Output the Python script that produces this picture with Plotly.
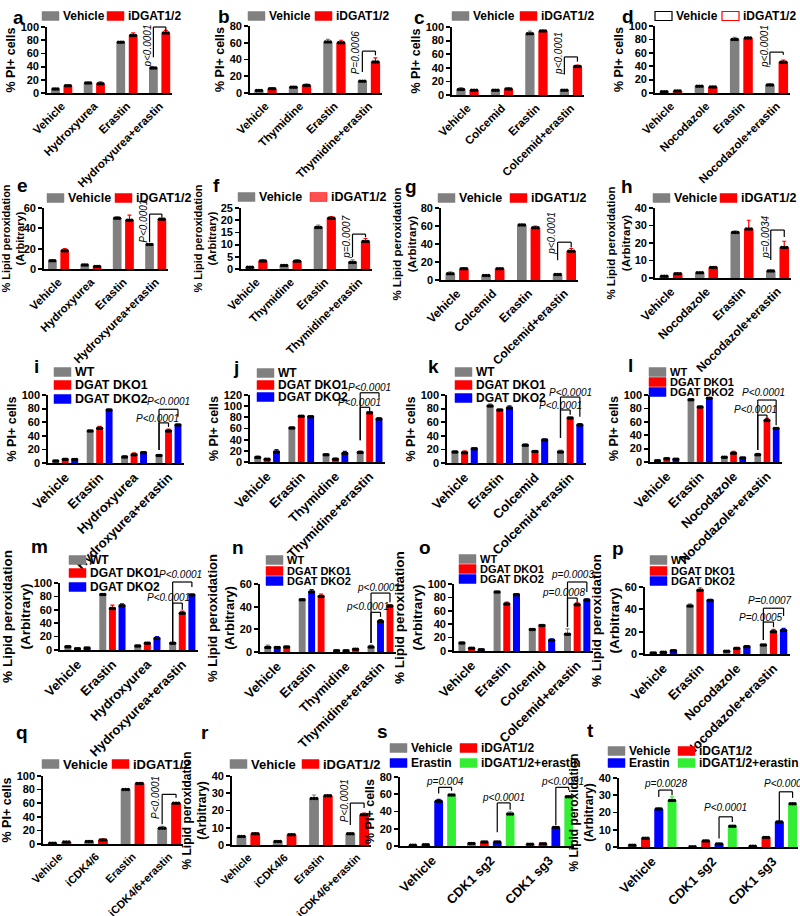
import plotly.graph_objects as go

W, H = 800, 916
FONT = "Liberation Sans, Arial, sans-serif"
NARROW = "Liberation Sans Narrow, Liberation Sans, sans-serif"
GREY, RED, BLUE, GREEN = "#808080", "#ff0000", "#0000ff", "#33ee33"

# ---------------- data ----------------
cat_hu = ["Vehicle", "Hydroxyurea", "Erastin", "Hydroxyurea+erastin"]
cat_thy = ["Vehicle", "Thymidine", "Erastin", "Thymidine+erastin"]
cat_col = ["Vehicle", "Colcemid", "Erastin", "Colcemid+erastin"]
cat_noc = ["Vehicle", "Nocodazole", "Erastin", "Nocodazole+erastin"]
cat_hu2 = ["Vehicle", "Erastin", "Hydroxyurea", "Hydroxyurea+erastin"]
cat_thy2 = ["Vehicle", "Erastin", "Thymidine", "Thymidine+erastin"]
cat_col2 = ["Vehicle", "Erastin", "Colcemid", "Colcemid+erastin"]
cat_noc2 = ["Vehicle", "Erastin", "Nocodazole", "Nocodazole+erastin"]
cat_cdk46 = ["Vehicle", "iCDK4/6", "Erastin", "iCDK4/6+erastin"]
cat_cdk1 = ["Vehicle", "CDK1 sg2", "CDK1 sg3"]

a_veh, a_veh_err = [6, 15, 77, 38], [1, 1.5, 1, 1]
a_idg, a_idg_err = [11, 14, 87, 91], [1, 3, 4, 4]
b_veh, b_veh_err = [3, 7, 61, 14], [0.5, 1, 3, 0.5]
b_idg, b_idg_err = [5, 9, 60, 37], [1, 1.5, 3, 5]
c_veh, c_veh_err = [8, 7, 90, 7], [3, 1, 4, 1]
c_idg, c_idg_err = [7, 9, 94, 42], [1, 1.5, 1, 2]
d_veh, d_veh_err = [2, 10, 80, 12], [0.5, 1, 3, 2]
d_idg, d_idg_err = [3, 9, 82, 46], [1, 1, 1, 3]
e_veh, e_veh_err = [8, 4, 50, 24], [1, 0.5, 1.5, 0.5]
e_idg, e_idg_err = [18, 2.5, 48, 49], [2, 0.5, 5, 1]
f_veh, f_veh_err = [0.7, 1.4, 17, 2.7], [0.2, 0.2, 1, 1]
f_idg, f_idg_err = [3.3, 3.2, 20.8, 11.3], [0.5, 0.5, 0.7, 1.2]
g_veh, g_veh_err = [7, 5, 61, 6], [2, 0.5, 1, 0.5]
g_idg, g_idg_err = [12.5, 12.5, 58, 32], [1, 0.5, 2, 3]
h_veh, h_veh_err = [1, 3, 26, 4], [0.2, 0.3, 1, 0.7]
h_idg, h_idg_err = [2.5, 6, 28, 17.5], [0.3, 0.5, 5, 3.5]

i_wt, i_wt_err = [3, 47, 9, 11], [0.5, 1, 2, 0.5]
i_k1, i_k1_err = [5, 51, 12, 47], [2, 3, 3, 3]
i_k2, i_k2_err = [5, 78, 15, 56], [1, 1, 1, 1]
j_wt, j_wt_err = [8, 61, 13, 17], [3, 2, 1, 3]
j_k1, j_k1_err = [5, 82, 5, 88], [1, 1, 2, 1]
j_k2, j_k2_err = [18, 81, 15, 77], [4, 1, 4, 2]
k_wt, k_wt_err = [16, 84, 26, 16], [2, 3, 2, 3]
k_k1, k_k1_err = [15, 78, 17, 66], [3, 1, 1, 1]
k_k2, k_k2_err = [21, 81, 34, 56], [1, 3, 1, 2]
l_wt, l_wt_err = [2, 93, 7, 11], [0.5, 1, 1, 2]
l_k1, l_k1_err = [5, 82, 13, 62], [1, 1, 3, 3]
l_k2, l_k2_err = [4, 95, 6, 50], [1, 1, 1, 1]
m_wt, m_wt_err = [5, 83, 6, 10], [1.5, 1, 1.5, 1]
m_k1, m_k1_err = [2, 62, 10, 55], [0.5, 5, 1.5, 3]
m_k2, m_k2_err = [3, 66, 17, 82], [0.5, 3, 3, 1]
n_wt, n_wt_err = [4, 46, 1, 4.5], [2, 0.5, 0.3, 1.5]
n_k2, n_k2_err = [4, 53, 1, 27], [0.5, 2, 0.3, 1.5]
n_k1, n_k1_err = [4.5, 49, 2.5, 40.5], [0.5, 2, 0.5, 1]
o_wt, o_wt_err = [12, 88, 32, 25], [1, 0.5, 1, 8]
o_k1, o_k1_err = [4, 70, 38, 69], [0.5, 3, 1, 3]
o_k2, o_k2_err = [2, 84, 16, 76], [0.5, 1, 2, 2]
p_wt, p_wt_err = [1, 43, 2.5, 8], [0.2, 2, 0.5, 0.5]
p_k1, p_k1_err = [1.5, 57, 5, 20], [0.3, 3, 1, 2]
p_k2, p_k2_err = [3, 48, 6.5, 21], [0.5, 1, 1, 2]

q_veh, q_veh_err = [1, 3.5, 80, 23], [0.3, 1, 1, 3]
q_idg, q_idg_err = [3, 6, 89, 60], [0.5, 1.5, 1, 1]
r_veh, r_veh_err = [5, 2, 27, 6.5], [0.3, 0.5, 2, 0.5]
r_idg, r_idg_err = [6.5, 6, 28.5, 17.5], [0.5, 0.5, 0.5, 1]

s_veh, s_veh_err = [1, 3, 2], [0.3, 0.3, 0.3]
s_idg, s_idg_err = [1.5, 4.5, 2.5], [0.3, 1, 0.5]
s_era, s_era_err = [52, 4.5, 21.5], [2, 1, 1]
s_cmb, s_cmb_err = [59, 37, 57], [1, 3, 1.5]
t_veh, t_veh_err = [1, 0.2, 0.4], [0.3, 0.1, 0.1]
t_idg, t_idg_err = [5, 3.5, 5.5], [0.3, 0.5, 0.5]
t_era, t_era_err = [22, 1.8, 14.5], [0.5, 0.3, 0.5]
t_cmb, t_cmb_err = [27, 12, 25], [2, 0.5, 0.5]

PI = "% PI+ cells"
LIPID = "% Lipid peroxidation<br>(Arbitrary)"


def two(v, ve, i, ie):
    return [("Vehicle", v, ve, GREY), ("iDGAT1/2", i, ie, RED)]


def three(w, we, a, ae, b, be, ca=RED, cb=BLUE):
    return [("WT", w, we, GREY), ("DGAT DKO1", a, ae, ca), ("DGAT DKO2", b, be, cb)]


def four(v, ve, i, ie, e, ee, c, ce):
    return [("Vehicle", v, ve, GREY), ("iDGAT1/2", i, ie, RED),
            ("Erastin", e, ee, BLUE), ("iDGAT1/2+erastin", c, ce, GREEN)]


LEG2 = lambda x1, x2, y, style=None: [(x1, y, "Vehicle", GREY, style and style[0]),
                                       (x2, y, "iDGAT1/2", RED, style and style[1])]
LEG3 = lambda x, y1, y2, y3: [(x, y1, "WT", GREY, None), (x, y2, "DGAT DKO1", RED, None),
                              (x, y3, "DGAT DKO2", BLUE, None)]
LEG4 = lambda x1, x2, y1, y2: [(x1, y1, "Vehicle", GREY, None), (x2, y1, "iDGAT1/2", RED, None),
                               (x1, y2, "Erastin", BLUE, None), (x2, y2, "iDGAT1/2+erastin", GREEN, None)]

panels = [
    dict(L="a", cats=cat_hu, S=two(a_veh, a_veh_err, a_idg, a_idg_err), ymax=100, dt=20, yt=PI,
         box=(47, 172, 27, 93), let=(18, 17), leg=LEG2(42, 107, 16), lf=12, tf=11.5,
         br=[(3, 0, 1, 54, 100, 93, "p<0.0001", 71, True, -6)]),
    dict(L="b", cats=cat_thy, S=two(b_veh, b_veh_err, b_idg, b_idg_err), ymax=80, dt=20, yt=PI,
         box=(250, 382, 26, 93), let=(224, 16), leg=LEG2(248, 315, 16), lf=12, tf=11.5,
         br=[(3, 0, 1, 25, 50, 45, "P=0.0006", 49, True, -6)]),
    dict(L="c", cats=cat_col, S=two(c_veh, c_veh_err, c_idg, c_idg_err), ymax=100, dt=20, yt=PI,
         box=(452, 584, 27, 95), let=(419, 18), leg=LEG2(452, 520, 16), lf=12, tf=11.5,
         br=[(3, 0, 1, 30, 56, 49, "p<0.0001", 61, True, -6)]),
    dict(L="d", cats=cat_noc, S=two(d_veh, d_veh_err, d_idg, d_idg_err), ymax=100, dt=20, yt=PI,
         box=(655, 790, 26, 93), let=(628, 16), leg=LEG2(655, 722, 16, ("hollow", "hollow")), lf=12, tf=11.5,
         br=[(3, 0, 1, 42, 61, 57, "p<0.0001", 70, True, -6)]),
    dict(L="e", cats=cat_hu, S=two(e_veh, e_veh_err, e_idg, e_idg_err), ymax=60, dt=20, yt=LIPID,
         box=(44, 168, 208, 269), let=(22, 185), leg=LEG2(47, 115, 198), lf=12.5, tf=11.5,
         br=[(3, 0, 1, 26.5, 54, 51, "P<0.0001", 47, True, -6)]),
    dict(L="f", cats=cat_thy, S=two(f_veh, f_veh_err, f_idg, f_idg_err), ymax=25, dt=5, yt=LIPID,
         box=(241, 372, 208, 269), let=(216, 185), leg=LEG2(238, 310, 197, (None, "light")), lf=12.5, tf=11.5,
         br=[(3, 0, 1, 4.9, 14.3, 13, "p=0.0007", 13, True, -6)]),
    dict(L="g", cats=cat_col, S=two(g_veh, g_veh_err, g_idg, g_idg_err), ymax=80, dt=20, yt=LIPID,
         box=(441, 578, 208, 280), let=(411, 187), leg=LEG2(438, 510, 198), lf=12.5, tf=12,
         br=[(3, 0, 1, 22, 42, 36, "p<0.0001", 52, True, -6)]),
    dict(L="h", cats=cat_noc, S=two(h_veh, h_veh_err, h_idg, h_idg_err), ymax=40, dt=10, yt=LIPID,
         box=(655, 791, 208, 278), let=(627, 187), leg=LEG2(653, 720, 198), lf=12.5, tf=12,
         br=[(3, 0, 1, 10.3, 27.4, 23.4, "p=0.0034", 23.4, True, -6)]),
    dict(L="i", cats=cat_hu2, S=three(i_wt, i_wt_err, i_k1, i_k1_err, i_k2, i_k2_err), ymax=100, dt=20, yt=PI,
         box=(48, 184, 395, 463), let=(36, 366), leg=LEG3(54, 372, 385, 399), lf=12.5, tf=13,
         br=[(3, 0, 1, 19, 59, 53, "P<0.0001", 66, False, -6), (3, 0, 2, 19, 79, 68, "P<0.0001", 90, False, 0)]),
    dict(L="j", cats=cat_thy2, S=three(j_wt, j_wt_err, j_k1, j_k1_err, j_k2, j_k2_err), ymax=120, dt=20, yt=PI,
         box=(250, 385, 395, 462), let=(236, 367), leg=LEG3(257, 373, 385, 397), lf=12, tf=13,
         br=[(3, 0, 1, 39, 98, 90, "P<0.0001", 107, False, -5), (3, 0, 2, 39, 124, 115, "P<0.0001", 134, False, 0)]),
    dict(L="k", cats=cat_col2, S=three(k_wt, k_wt_err, k_k1, k_k1_err, k_k2, k_k2_err), ymax=100, dt=20, yt=PI,
         box=(447, 586, 395, 463), let=(433, 366), leg=LEG3(455, 372, 385, 398), lf=12, tf=13,
         br=[(3, 0, 1, 37, 78, 71, "P<0.0001", 85, False, -5), (3, 0, 2, 37, 97, 68, "P<0.0001", 104, False, 0)]),
    dict(L="l", cats=cat_noc2, S=three(l_wt, l_wt_err, l_k1, l_k1_err, l_k2, l_k2_err), ymax=100, dt=20, yt=PI,
         box=(650, 782, 395, 462), let=(630, 365), leg=LEG3(649, 372, 382, 392), lf=11, tf=13,
         br=[(3, 0, 1, 18, 70, 61, "P<0.0001", 78, False, -7), (3, 0, 2, 18, 92.5, 55, "P<0.0001", 103, False, -3)]),
    dict(L="m", cats=cat_hu2, S=three(m_wt, m_wt_err, m_k1, m_k1_err, m_k2, m_k2_err), ymax=100, dt=20, yt=LIPID,
         box=(60, 198, 583, 650), let=(39, 546), leg=LEG3(69, 560, 573, 587), lf=12, tf=13,
         br=[(3, 0, 1, 12, 70, 60, "P<0.0001", 78, False, -9), (3, 0, 2, 12, 101.5, 94, "P<0.0001", 112, False, -2)]),
    dict(L="n", cats=cat_thy2, S=[("WT", n_wt, n_wt_err, GREY), ("DGAT DKO2", n_k2, n_k2_err, BLUE),
                                  ("DGAT DKO1", n_k1, n_k1_err, RED)], ymax=60, dt=20, yt=LIPID,
         box=(260, 396, 584, 652), let=(238, 547), leg=LEG3(266, 560, 571, 581), lf=11, tf=13,
         br=[(3, 0, 1, 8, 35, 31, "p<0.0001", 40, False, -8), (3, 0, 2, 8, 52, 44, "p<0.0001", 57, False, -2)]),
    dict(L="o", cats=cat_col2, S=three(o_wt, o_wt_err, o_k1, o_k1_err, o_k2, o_k2_err), ymax=100, dt=20, yt=LIPID,
         box=(454, 593, 584, 651), let=(425, 547), leg=LEG3(459, 559, 569, 579), lf=11, tf=13,
         br=[(3, 0, 1, 36, 79, 72, "p=0.0008", 87, False, -9), (3, 0, 2, 36, 103, 88, "p=0.0003", 114, False, -5)]),
    dict(L="p", cats=cat_noc2, S=three(p_wt, p_wt_err, p_k1, p_k1_err, p_k2, p_k2_err), ymax=60, dt=20, yt=LIPID,
         box=(645, 790, 587, 654), let=(618, 548), leg=LEG3(650, 560, 571, 581), lf=11, tf=13,
         br=[(3, 0, 1, 12.5, 28.6, 24, "P=0.0005", 33, False, -7), (3, 0, 2, 12.5, 41, 34, "P=0.0007", 48, False, -3)]),
    dict(L="q", cats=cat_cdk46, S=two(q_veh, q_veh_err, q_idg, q_idg_err), ymax=100, dt=20, yt=PI,
         box=(43, 183, 776, 844), let=(22, 732), leg=LEG2(42, 112, 764), lf=13, tf=11,
         br=[(3, 0, 1, 29, 73, 68, "P<0.0001", 68, True, -6)]),
    dict(L="r", cats=cat_cdk46, S=two(r_veh, r_veh_err, r_idg, r_idg_err), ymax=40, dt=10, yt=LIPID,
         box=(232, 371, 776, 845), let=(205, 732), leg=LEG2(230, 302, 764), lf=13, tf=11,
         br=[(3, 0, 1, 11.6, 24.3, 21.5, "P<0.0001", 25.5, True, -6)]),
    dict(L="s", cats=cat_cdk1, S=four(s_veh, s_veh_err, s_idg, s_idg_err, s_era, s_era_err, s_cmb, s_cmb_err),
         ymax=80, dt=20, yt=PI, box=(400, 574, 777, 846), let=(382, 731), leg=LEG4(390, 460, 748, 763), lf=12, tf=13,
         br=[(0, 2, 3, 61, 68, 64, "p=0.004", 75, False, 0), (1, 2, 3, 16, 50, 42, "p<0.0001", 56, False, 0),
             (2, 2, 3, 24, 68, 65, "p<0.0001", 75, False, 0)]),
    dict(L="t", cats=cat_cdk1, S=four(t_veh, t_veh_err, t_idg, t_idg_err, t_era, t_era_err, t_cmb, t_cmb_err),
         ymax=40, dt=10, yt=LIPID, box=(619, 798, 778, 847), let=(590, 730), leg=LEG4(608, 678, 751, 763), lf=12, tf=13,
         br=[(0, 2, 3, 29, 33, 30, "p=0.0028", 36.6, False, 0), (1, 2, 3, 5, 17.5, 14.5, "P<0.0001", 22.7, False, 0),
             (2, 2, 3, 14.5, 32, 28.5, "P<0.0001", 37, False, 0)]),
]

TITLE_SIZE = {"e": 11, "f": 11, "g": 11.5, "h": 11.5, "m": 13.5, "n": 13, "o": 13.5, "p": 13.5,
              "r": 12, "t": 12}

OFFSETS = {2: ([-0.19, 0.19], 0.27), 3: ([-0.275, 0.0, 0.275], 0.2), 4: ([-0.33, -0.11, 0.11, 0.33], 0.15)}
XRANGE = {2: [-0.45, 3.38], 3: [-0.5, 3.45], 4: [-0.55, 2.42]}

fig = go.Figure()
shapes, annotations, axes = [], [], {}
BOLD = dict(family=FONT, color="black", weight="bold")

for idx, P in enumerate(panels, start=1):
    sfx = "" if idx == 1 else str(idx)
    xa, ya = "x" + sfx, "y" + sfx
    ns = len(P["S"])
    offs, bw = OFFSETS[ns]
    cats = P["cats"]
    for k, (name, vals, errs, color) in enumerate(P["S"]):
        xs = [g + offs[k] for g in range(len(cats))]
        fig.add_trace(go.Bar(x=xs, y=vals, width=bw, name=name, xaxis=xa, yaxis=ya,
                             marker=dict(color=color, line=dict(width=0)),
                             error_y=dict(type="data", array=errs, visible=True, color=color,
                                          thickness=1.2, width=2),
                             showlegend=False, hoverinfo="skip"))
        ddx = bw * 0.27
        dx_, dy_ = [], []
        for x, v in zip(xs, vals):
            dx_ += [x - ddx, x, x + ddx]
            dy_ += [v, v, v]
        fig.add_trace(go.Scatter(x=dx_, y=dy_, mode="markers", xaxis=xa, yaxis=ya,
                                 marker=dict(color="black", size=3.5), cliponaxis=False,
                                 showlegend=False, hoverinfo="skip"))
    x0, x1, yt, yb = P["box"]
    lipid = P["yt"] == LIPID
    axes["xaxis" + sfx] = dict(domain=[x0 / W, x1 / W], anchor=ya, range=XRANGE[ns], automargin=False,
                               tickmode="array", tickvals=list(range(len(cats))), ticktext=cats,
                               tickangle=-45, showline=True, linecolor="black", linewidth=1.8,
                               ticks="", showgrid=False, zeroline=False,
                               tickfont=dict(size=P["tf"], **BOLD))
    axes["yaxis" + sfx] = dict(domain=[1 - yb / H, 1 - yt / H], anchor=xa, range=[0, P["ymax"]],
                               automargin=False,
                               tick0=0, dtick=P["dt"], showline=True, linecolor="black", linewidth=1.8,
                               ticks="outside", ticklen=4, tickwidth=1.8, tickcolor="black",
                               showgrid=False, zeroline=False, tickfont=dict(size=11, **BOLD),
                               title=dict(text=P["yt"], standoff=2,
                                          font=dict(size=TITLE_SIZE.get(P["L"], 12.5),
                                                    family=NARROW if lipid else FONT,
                                                    color="black", weight="bold")))
    # panel letter
    lx, ly = P["let"]
    annotations.append(dict(x=lx / W, y=1 - ly / H, xref="paper", yref="paper", text=P["L"],
                            showarrow=False, xanchor="center", yanchor="middle",
                            font=dict(size=19, **BOLD)))
    # legend
    bwpx, bhpx = 17, 9
    for (bx, by, lab, col, style) in P["leg"]:
        fill = col
        lcol = col
        if style == "hollow":
            fill = "white"
            lcol = "black" if col == GREY else RED
        elif style == "light":
            fill = "#ff5050"
        shapes.append(dict(type="rect", xref="paper", yref="paper", x0=bx / W, x1=(bx + bwpx) / W,
                           y0=1 - (by + bhpx / 2) / H, y1=1 - (by - bhpx / 2) / H,
                           fillcolor=fill, line=dict(color=lcol, width=1.2 if style == "hollow" else 0.5)))
        annotations.append(dict(x=(bx + bwpx + 2) / W, y=1 - by / H, xref="paper", yref="paper", text=lab,
                                showarrow=False, xanchor="left", yanchor="middle",
                                font=dict(size=P["lf"], **BOLD)))
    # brackets and p-values
    ym = P["ymax"]
    ydom = "y" + sfx + " domain"
    for (g, k1, k2, yl, ytop, yr, txt, ty, rot, sh) in P["br"]:
        xl, xr = g + offs[k1], g + offs[k2]
        line = dict(color="black", width=1.2)
        for (ax0, ay0, ax1, ay1) in [(xl, yl, xl, ytop), (xl, ytop, xr, ytop), (xr, ytop, xr, yr)]:
            shapes.append(dict(type="line", xref=xa, yref=ydom, x0=ax0, x1=ax1,
                               y0=ay0 / ym, y1=ay1 / ym, line=line))
        annotations.append(dict(x=xl if rot else (xl + xr) / 2, y=ty / ym, xref=xa, yref=ydom,
                                text=txt, showarrow=False, textangle=-90 if rot else 0,
                                xanchor="center", yanchor="middle", xshift=sh,
                                font=dict(family=FONT, size=10, color="black", style="italic")))

fig.update_layout(width=W, height=H, margin=dict(l=0, r=0, t=0, b=0, autoexpand=False),
                  paper_bgcolor="white", plot_bgcolor="white", showlegend=False,
                  font=dict(family=FONT, color="black"), shapes=shapes, annotations=annotations,
                  barmode="overlay", **axes)
fig.write_html("out.html", config={"displayModeBar": False, "staticPlot": True},
               post_script="document.body.style.margin='0px';document.body.style.overflow='hidden';")
